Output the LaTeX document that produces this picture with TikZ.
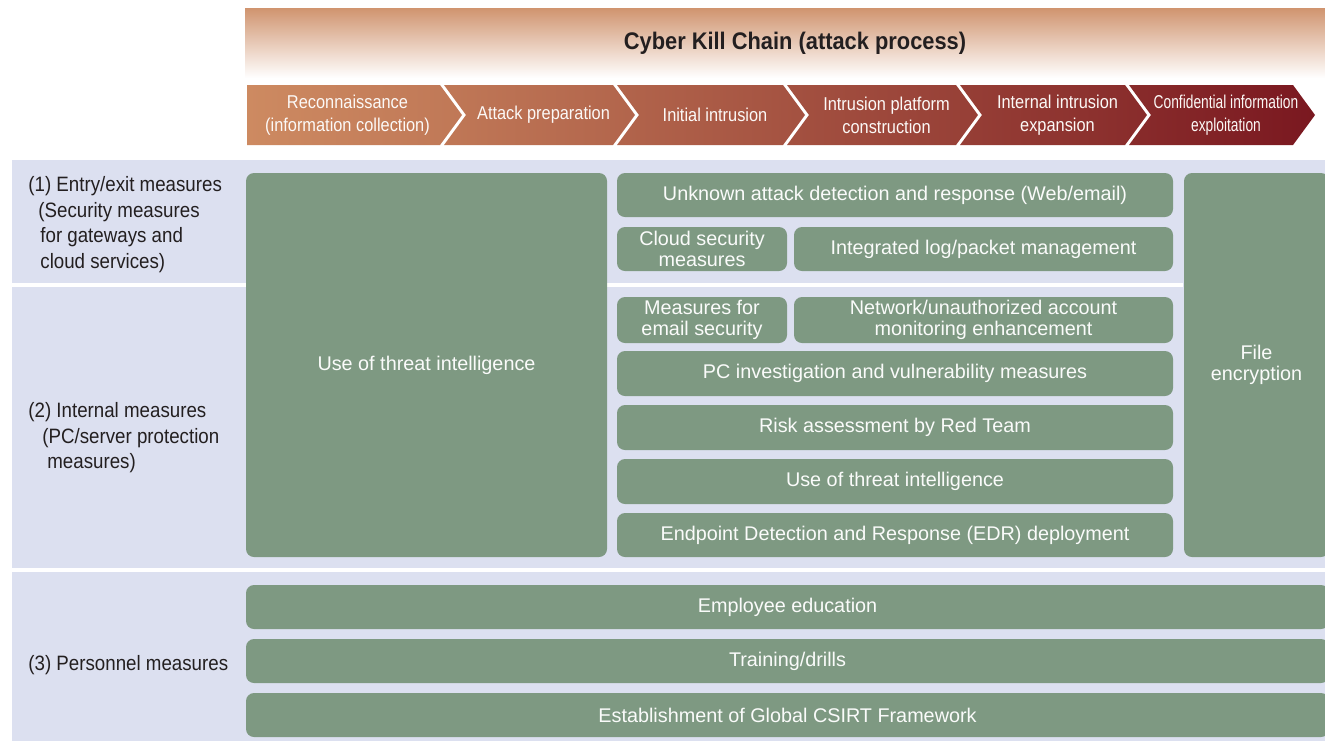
\documentclass[tikz,border=0pt]{standalone}
\usepackage{fontspec}
\setmainfont{Liberation Sans}
\newfontfamily\narrowfont[FakeStretch=0.88]{Liberation Sans}
\newfontfamily\titlefont[FakeStretch=0.91]{Liberation Sans}
\newfontfamily\squeezefont[FakeStretch=0.74]{Liberation Sans}
\newfontfamily\sidefont[FakeStretch=0.9]{Liberation Sans}
\definecolor{kcink}{HTML}{231F20}
\definecolor{kchead}{HTML}{D0946F}
\definecolor{kcfirst}{HTML}{CD8A61}
\definecolor{kclast}{HTML}{7A1820}
\definecolor{kcband}{HTML}{DCE0F0}
\definecolor{kcgreen}{HTML}{7E9982}
\tikzset{
  area/.style n args={4}{minimum width={(#3-#1)*0.5pt},minimum height={(#4-#2)*0.5pt},at={({(#1+#3)/2},{(#2+#4)/2})}},
  gbox/.style ={rounded corners=4pt,fill=kcgreen,inner sep=0pt,align=center,text=white!96!kcgreen,font=\fontsize{9.9}{10.2}\selectfont},
  chev/.style ={text=white!95!kcfirst,align=center,font=\narrowfont\fontsize{9.3}{11.4}\selectfont},
  side/.style ={text=kcink,align=left,anchor=north west,inner sep=0pt,font=\sidefont\fontsize{10.4}{12.8}\selectfont},
  title/.style={text=kcink,font=\titlefont\bfseries\fontsize{12}{14}\selectfont},
  sep/.style  ={draw=white,line width=2pt},
}

\begin{document}
\begin{tikzpicture}[x=0.5pt,y=-0.5pt]
  \useasboundingbox (0,0) rectangle (1325,741);

  % header
  \shade[top color=kchead,bottom color=white] (245,8) rectangle (1325,78);
  \node[title] (title) at (795,43) {Cyber Kill Chain (attack process)};

  % kill chain stages
  \foreach \i/\xa/\xb/\txt in {0/247/444/{Reconnaissance\\(information collection)},
                               1/444/617/{Attack preparation},
                               2/617/787/{Initial intrusion},
                               3/787/960/{Intrusion platform\\construction},
                               4/960/1129/{Internal intrusion\\expansion},
                               5/1129/1297/{\squeezefont Confidential information\\\squeezefont exploitation}}{
    \pgfmathtruncatemacro\kcl{100*\i/6}
    \pgfmathtruncatemacro\kcr{100*(\i+1)/6}
    \pgfmathsetmacro\kcn{\i==0 ? 0 : 22}
    \shade[left color=kclast!\kcl!kcfirst,right color=kclast!\kcr!kcfirst]
      (\xa,85) -- (\xb-4,85) -- (\xb+18,115) -- (\xb-4,145) -- (\xa,145) -- (\xa+\kcn,115) -- cycle;
    \node[chev] (c\i) at ({(\xa+\kcn+\xb)/2+2},115) {\txt};
  }

  % bands
  \fill[kcband] (12,160) rectangle (1325,741);
  \draw[sep] (12,285) -- (1183,285);
  \draw[sep] (12,570) -- (1325,570);

  \node[side] (s1) at (28,176) {(1) Entry/exit measures\\\hspace*{5pt}(Security measures\\\hspace*{6pt}for gateways and\\\hspace*{6pt}cloud services)};
  \node[side] (s2) at (28,402) {(2) Internal measures\\\hspace*{7pt}(PC/server protection\\\hspace*{9.5pt}measures)};
  \node[side,anchor=west] (s3) at (28,665) {(3) Personnel measures};

  % measures
  \node[gbox,area={246}{173}{607}{557}]   (ti)   {Use of threat intelligence};
  \node[gbox,area={617}{173}{1173}{217}]  (web)  {Unknown attack detection and response (Web/email)};
  \node[gbox,area={617}{227}{787}{271}]   (cld)  {Cloud security\\measures};
  \node[gbox,area={794}{227}{1173}{271}]  (log)  {Integrated log/packet management};
  \node[gbox,area={617}{297}{787}{343}]   (mail) {Measures for\\email security};
  \node[gbox,area={794}{297}{1173}{343}]  (net)  {Network/unauthorized account\\monitoring enhancement};
  \node[gbox,area={617}{351}{1173}{396}]  (pc)   {PC investigation and vulnerability measures};
  \node[gbox,area={617}{405}{1173}{450}]  (red)  {Risk assessment by Red Team};
  \node[gbox,area={617}{459}{1173}{504}]  (ti2)  {Use of threat intelligence};
  \node[gbox,area={617}{513}{1173}{557}]  (edr)  {Endpoint Detection and Response (EDR) deployment};
  \node[gbox,area={1184}{173}{1329}{557}] (enc)  {File\\encryption};

  \node[gbox,area={246}{585}{1329}{629}]  (edu)  {Employee education};
  \node[gbox,area={246}{639}{1329}{683}]  (drl)  {Training/drills};
  \node[gbox,area={246}{693}{1329}{737}]  (csirt){Establishment of Global CSIRT Framework};
\end{tikzpicture}
\end{document}
